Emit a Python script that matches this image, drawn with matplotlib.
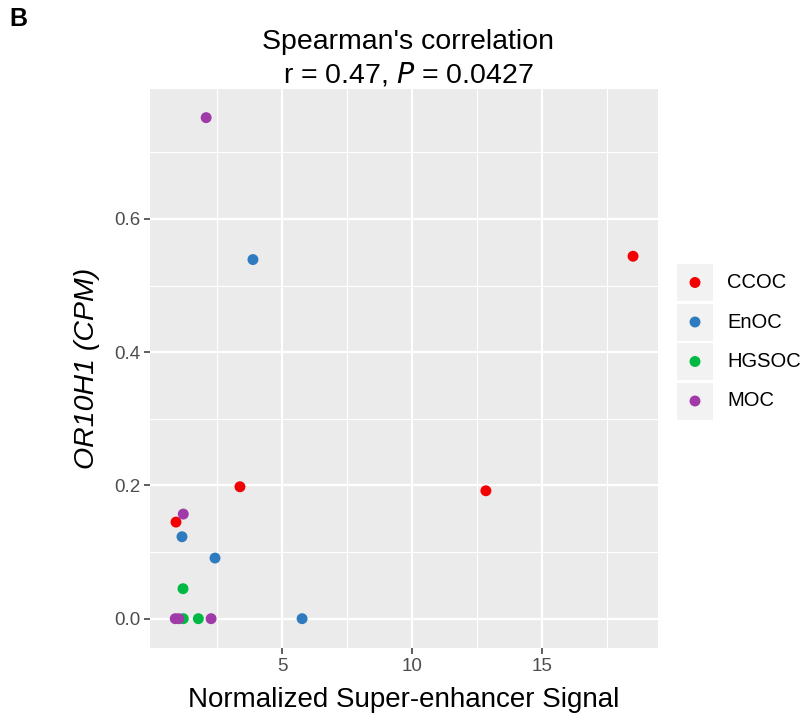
import numpy as np
import matplotlib.pyplot as plt
from matplotlib.patches import Rectangle

plt.rcParams['font.family'] = ['Liberation Sans', 'DejaVu Sans']

# --- data ---
groups = ['CCOC', 'EnOC', 'HGSOC', 'MOC']
colors = {'CCOC': '#F40000', 'EnOC': '#2E7BC0', 'HGSOC': '#00B942', 'MOC': '#A03AA8'}

ccoc_x = [18.49, 12.83, 3.37, 0.91]
ccoc_y = [0.544, 0.192, 0.198, 0.145]
enoc_x = [3.87, 2.41, 1.14, 5.76]
enoc_y = [0.539, 0.091, 0.123, 0.0]
hgsoc_x = [1.18, 1.19, 1.77]
hgsoc_y = [0.045, 0.0, 0.0]
moc_x = [2.07, 1.19, 0.88, 1.02, 2.26]
moc_y = [0.752, 0.157, 0.0, 0.0, 0.0]

series = {'CCOC': (ccoc_x, ccoc_y), 'EnOC': (enoc_x, enoc_y),
          'HGSOC': (hgsoc_x, hgsoc_y), 'MOC': (moc_x, moc_y)}

x_ticks = [5, 10, 15]
y_ticks = [0.0, 0.2, 0.4, 0.6]

# --- figure ---
W, H = 804, 717
fig = plt.figure(figsize=(W / 100, H / 100), dpi=100)
ax = fig.add_axes([150 / W, 1 - 648 / H, 508 / W, (648 - 89) / H])

ax.set_facecolor('#EBEBEB')
for s in ax.spines.values():
    s.set_visible(False)

ax.set_xlim(-0.09, 19.45)
ax.set_ylim(-0.044, 0.795)
ax.set_xticks(x_ticks)
ax.set_yticks(y_ticks)
ax.set_xticklabels([str(t) for t in x_ticks])
ax.set_yticklabels(['%.1f' % t for t in y_ticks])
ax.set_xticks([2.5, 7.5, 12.5, 17.5], minor=True)
ax.set_yticks([0.1, 0.3, 0.5, 0.7], minor=True)
ax.grid(True, which='major', color='white', lw=1.6)
ax.grid(True, which='minor', color='white', lw=0.8)
ax.set_axisbelow(True)
ax.tick_params(which='major', length=4, width=1.1, color='#333333',
               labelsize=13.5, labelcolor='#4D4D4D', pad=3)
ax.tick_params(which='minor', length=0)

# draw HGSOC before MOC so purple sits on top, like the original
for g in ['CCOC', 'EnOC', 'HGSOC', 'MOC']:
    xs, ys = series[g]
    ax.scatter(xs, ys, s=62, color=colors[g], edgecolors='none', zorder=3, clip_on=False)

ax.set_xlabel('Normalized Super-enhancer Signal', fontsize=20, labelpad=9)
ax.set_ylabel('OR10H1 (CPM)', fontsize=20.5, style='italic', labelpad=10)

fig.text(408 / W, 1 - 42 / H, "Spearman's correlation", fontsize=20.5,
         ha='center', va='center')
fig.text(408 / W, 1 - 74 / H, r"r = 0.47, $\mathit{P}$ = 0.0427", fontsize=20.5,
         ha='center', va='center')
fig.text(9 / W, 1 - 19 / H, 'B', fontsize=18, weight='bold', ha='left', va='center')

# --- legend (ggplot style keys) ---
lax = fig.add_axes([0, 0, 1, 1], facecolor='none')
lax.set_xlim(0, W)
lax.set_ylim(H, 0)
lax.axis('off')
key_top, key_h, gap = 264, 37, 2.5
for i, g in enumerate(groups):
    y0 = key_top + i * (key_h + gap)
    lax.add_patch(Rectangle((677, y0), 36, key_h, color='#F2F2F2', lw=0))
    lax.scatter([695], [y0 + key_h / 2], s=62, color=colors[g], edgecolors='none')
    lax.text(727, y0 + key_h / 2, g, fontsize=14.5, va='center', ha='left')

fig.savefig('out.png', dpi=100)
